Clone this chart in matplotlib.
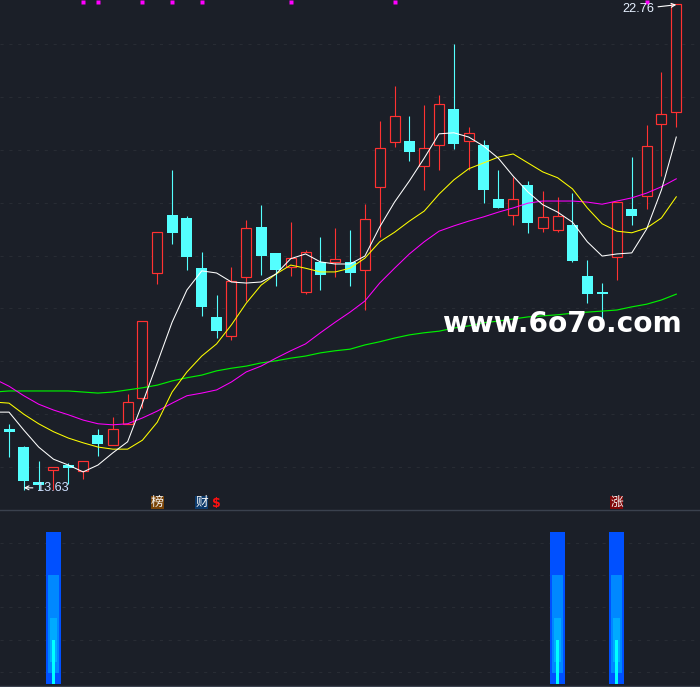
import matplotlib
matplotlib.use("Agg")
import matplotlib.pyplot as plt

opens = [14.72,14.38,13.72,13.95,14.04,13.93,14.61,14.42,14.82,15.31,17.67,18.77,18.71,17.76,16.84,16.48,17.59,18.54,18.05,17.78,17.31,17.88,17.88,17.88,17.73,19.30,20.15,20.16,19.69,20.09,20.77,20.16,20.09,19.07,18.77,19.33,18.52,18.48,18.58,17.61,17.31,17.97,18.88,19.13,20.49,20.71]
closes = [14.67,13.74,13.66,14.00,13.98,14.12,14.44,14.72,15.23,16.76,18.44,18.43,17.97,17.03,16.57,17.52,18.52,17.99,17.73,17.95,18.07,17.63,17.94,17.67,18.69,20.03,20.64,19.96,20.03,20.86,20.11,20.32,19.24,18.90,19.07,18.62,18.73,18.75,17.90,17.27,17.27,19.01,18.75,20.07,20.68,22.75]
highs = [14.82,14.40,14.12,14.00,14.08,14.12,14.72,14.95,15.38,16.76,18.44,19.62,18.75,18.07,17.25,17.78,18.67,18.96,18.05,18.63,18.10,18.35,18.52,18.48,18.97,20.54,21.20,20.64,20.85,21.03,22.00,20.43,20.18,19.62,19.48,19.41,19.22,19.11,19.18,17.92,17.48,19.01,19.86,20.47,21.47,22.75]
lows = [14.19,13.57,13.57,13.57,13.68,13.78,14.21,14.42,14.82,15.12,17.46,18.22,17.73,16.86,16.44,16.40,17.14,17.63,17.42,17.61,17.27,17.35,17.59,17.42,16.97,18.35,20.05,19.79,19.24,19.62,20.01,19.62,18.99,18.90,18.58,18.43,18.44,18.44,17.88,17.10,16.78,17.54,18.58,18.88,19.50,20.43]

ma_white = [15.04,15.04,14.70,14.38,14.15,14.04,13.91,14.04,14.27,14.48,15.21,15.97,16.74,17.35,17.71,17.67,17.50,17.48,17.50,17.65,17.94,18.03,17.88,17.84,17.84,17.99,18.54,19.01,19.41,19.84,20.30,20.32,20.24,20.07,19.84,19.50,19.20,18.96,18.82,18.63,18.26,17.99,18.03,18.05,18.50,19.24,20.24]
ma_yellow = [15.23,15.21,15.00,14.82,14.67,14.55,14.46,14.38,14.34,14.34,14.51,14.85,15.42,15.80,16.10,16.33,16.69,17.10,17.44,17.65,17.82,17.76,17.69,17.69,17.76,17.95,18.26,18.44,18.65,18.84,19.16,19.43,19.64,19.75,19.86,19.92,19.75,19.58,19.47,19.26,18.90,18.60,18.46,18.43,18.52,18.71,19.11]
ma_magenta = [15.67,15.53,15.35,15.19,15.08,14.99,14.89,14.82,14.80,14.82,14.93,15.06,15.21,15.35,15.40,15.46,15.61,15.80,15.91,16.06,16.20,16.33,16.54,16.74,16.93,17.14,17.48,17.76,18.03,18.26,18.46,18.56,18.65,18.73,18.82,18.90,18.99,19.03,19.03,19.03,19.01,18.97,19.03,19.09,19.18,19.30,19.45]
ma_green = [15.42,15.44,15.44,15.44,15.44,15.44,15.42,15.40,15.42,15.46,15.50,15.55,15.63,15.69,15.74,15.82,15.87,15.91,15.97,16.01,16.06,16.10,16.16,16.20,16.23,16.31,16.37,16.44,16.50,16.54,16.57,16.63,16.67,16.73,16.76,16.80,16.84,16.86,16.88,16.91,16.93,16.95,16.97,17.03,17.08,17.16,17.27]

signal_days = [5,6,9,11,13,19,26,43]
badge_days = [10,13,41]
badge_labels = ["榜","财","涨"]
badge_colors = ["#7a4408","#0c3a6c","#800808"]
dollar_day = 14
pulse_days = [3,37,41]
pulse_layers = [(0,100,15,"#0050ff"),(7,72,11,"#0088ff"),(14.5,43.5,7,"#00aaff"),(0,29,3,"#00ffff")]
high_label = "22.76"
low_label = "13.63"
watermark = "www.6o7o.com"

BG = "#1b1f28"; GRID = "#282c34"; RED = "#ff3232"; CYAN = "#54ffff"
fig = plt.figure(figsize=(7,6.87), dpi=100, facecolor=BG)
H = 687.0
ax = fig.add_axes([0, 177/H, 1, 510/H], facecolor=BG)
ax2 = fig.add_axes([0, 0, 1, 176/H], facecolor=BG)
XL = (-0.607, 46.6)
pxu = (XL[1]-XL[0])/700.0

for a in (ax, ax2):
    a.set_xlim(*XL)
    a.set_xticks([])
    for s in a.spines.values():
        s.set_visible(False)
    a.tick_params(length=0, labelleft=False)
    a.grid(axis="y", color=GRID, lw=0.75, ls=(0,(3,5.5)))
    a.set_axisbelow(True)

ax.set_ylim(13.19, 22.83)
ax.set_yticks(range(14,23))
ax2.set_ylim(-2, 113.8)
ax2.set_yticks([7.9,29,50.7,71.7,92.8])

days = list(range(len(opens)))
for i in days:
    o, c, h, l = opens[i], closes[i], highs[i], lows[i]
    top, bot = max(o,c), min(o,c)
    if c >= o:
        ax.vlines(i, top, h, color=RED, lw=0.8, zorder=2)
        ax.vlines(i, l, bot, color=RED, lw=0.8, zorder=2)
        ax.bar(i, top-bot, bottom=bot, width=10*pxu, facecolor=BG, edgecolor=RED, lw=0.85, zorder=3)
    else:
        ax.vlines(i, l, h, color=CYAN, lw=0.8, zorder=2)
        ax.bar(i, top-bot, bottom=bot, width=11*pxu, facecolor=CYAN, edgecolor=CYAN, lw=0, zorder=3)

ma_x = list(range(-1, len(opens)))
for vals, col, w in ((ma_green,"#00f000",0.85),(ma_magenta,"#ff00ff",0.75),(ma_yellow,"#ffff00",0.75),(ma_white,"#ffffff",0.75)):
    ax.plot(ma_x, vals, color=col, lw=w, zorder=4)

ax.plot(signal_days, [22.79]*len(signal_days), ls="none", marker="s", ms=2.3, mec="none", color="#ff00ff", zorder=5)

for d, lab, col in zip(badge_days, badge_labels, badge_colors):
    ax.bar(d, 13.46-13.21, bottom=13.21, width=13*pxu, color=col, zorder=5, antialiased=False)
    ax.text(d, 13.335, lab, color="#f4f4f4", fontsize=9.2, ha="center", va="center",
            family=["Noto Sans CJK SC","DejaVu Sans"], zorder=6)
ax.text(dollar_day-0.02, 13.31, "$", color="#ff1010", fontsize=9, fontweight="bold", ha="center", va="center", zorder=6)

ax.annotate(high_label, xy=(45, 22.74), xytext=(622/700, 1-9/510), textcoords="axes fraction",
            color="#e6f0ff", fontsize=9.2, family="Liberation Sans", ha="left", va="center", zorder=7,
            arrowprops=dict(arrowstyle="->", color="white", lw=0.8, shrinkA=1, shrinkB=0, mutation_scale=7))
ax.annotate(low_label, xy=(1, 13.61), xytext=(37/700, 1-488/510), textcoords="axes fraction",
            color="#cfe0ff", fontsize=9.2, family="Liberation Sans", ha="left", va="center", zorder=7,
            arrowprops=dict(arrowstyle="->", color="white", lw=0.8, shrinkA=1, shrinkB=0, mutation_scale=7))

ax.text(562/700, 1-332/510, watermark, color="white", fontsize=20.2, fontweight="bold",
        ha="center", va="baseline", transform=ax.transAxes, zorder=8)

for d in pulse_days:
    for lo, hi, w, col in pulse_layers:
        ax2.bar(d, hi-lo, bottom=lo, width=w*pxu, color=col, zorder=3, antialiased=False)

fig.add_artist(plt.Line2D([0,1],[177/H,177/H], color="#3a414e", lw=1))
fig.add_artist(plt.Line2D([0,1],[0.8/H,0.8/H], color="#3a414e", lw=1))

fig.savefig("out.png", dpi=100, facecolor=BG)
